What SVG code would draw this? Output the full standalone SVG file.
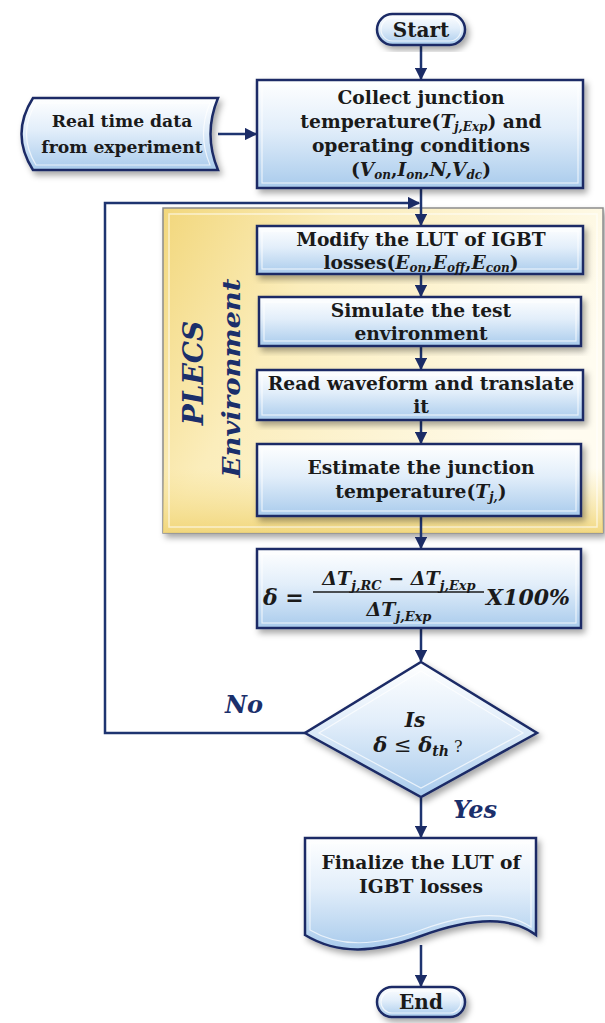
<svg xmlns="http://www.w3.org/2000/svg" width="605" height="1023" viewBox="0 0 605 1023">
<style>
.t{font-family:"DejaVu Serif","Liberation Serif",serif;font-weight:bold;font-size:18.7px;fill:#1a1a1a;text-anchor:middle}
.m{font-style:italic}
.s{font-size:12px;font-style:italic}
.box{fill:url(#gBox);stroke:#1b2c66;stroke-width:2.5;filter:url(#sh)}
.bev{fill:none;stroke:#ffffff;stroke-opacity:0.7;stroke-width:1.2}
.con{fill:none;stroke:#1e3470;stroke-width:2.5}
.lbl{font-family:"DejaVu Serif","Liberation Serif",serif;font-weight:bold;font-style:italic;fill:#1b2f6b}
</style>
<defs>
<linearGradient id="gBox" x1="0" y1="0" x2="0" y2="1">
<stop offset="0" stop-color="#ffffff"/>
<stop offset="0.45" stop-color="#e2eefa"/>
<stop offset="1" stop-color="#a9cbec"/>
</linearGradient>
<linearGradient id="gYel" x1="0" y1="0" x2="1" y2="0.4">
<stop offset="0" stop-color="#f2d77c"/>
<stop offset="0.35" stop-color="#fbedbb"/>
<stop offset="1" stop-color="#fffcf0"/>
</linearGradient>
<linearGradient id="gYelB" x1="0" y1="0" x2="0" y2="1">
<stop offset="0" stop-color="#ffffff" stop-opacity="0"/>
<stop offset="0.8" stop-color="#f6e08e" stop-opacity="0"/>
<stop offset="1" stop-color="#f0d475" stop-opacity="0.9"/>
</linearGradient>
<filter id="sh" x="-10%" y="-10%" width="125%" height="130%">
<feDropShadow dx="3" dy="4" stdDeviation="3" flood-color="#000" flood-opacity="0.35"/>
</filter>
<marker id="ah" viewBox="0 0 10 10" refX="9" refY="5" markerWidth="5" markerHeight="5" orient="auto" markerUnits="strokeWidth">
<path d="M0,0 L10,5 L0,10 Z" fill="#1b2c66"/>
</marker>
</defs>

<g id="plecs">
<rect x="163" y="208" width="440" height="325" fill="url(#gYel)" stroke="#8c8c8c" stroke-width="1.5" filter="url(#sh)"/>
<rect x="163" y="208" width="440" height="325" fill="url(#gYelB)"/>
<rect x="169" y="214" width="428" height="313" fill="none" stroke="#ffffff" stroke-opacity="0.6" stroke-width="1.5"/>
<text class="lbl" font-size="28" transform="translate(203,373) rotate(-90)" text-anchor="middle">PLECS</text>
<text class="lbl" font-size="25" transform="translate(240,378) rotate(-90)" text-anchor="middle" font-weight="normal" textLength="199" lengthAdjust="spacingAndGlyphs">Environment</text>
</g>

<g id="connectors">
<line class="con" x1="421" y1="46" x2="421" y2="79" marker-end="url(#ah)"/>
<line class="con" x1="218" y1="134" x2="256" y2="134" marker-end="url(#ah)"/>
<line class="con" x1="421" y1="189" x2="421" y2="225" marker-end="url(#ah)"/>
<polyline class="con" points="305,733 105,733 105,203 419,203" marker-end="url(#ah)"/>
<line class="con" x1="421" y1="274" x2="421" y2="296" marker-end="url(#ah)"/>
<line class="con" x1="421" y1="346" x2="421" y2="369" marker-end="url(#ah)"/>
<line class="con" x1="421" y1="420" x2="421" y2="443" marker-end="url(#ah)"/>
<line class="con" x1="421" y1="517" x2="421" y2="548" marker-end="url(#ah)"/>
<line class="con" x1="421" y1="629" x2="421" y2="661" marker-end="url(#ah)"/>
<line class="con" x1="421" y1="798" x2="421" y2="837" marker-end="url(#ah)"/>
<line class="con" x1="421" y1="945" x2="421" y2="986" marker-end="url(#ah)"/>
<text class="lbl" font-size="24" x="244" y="713" text-anchor="middle">No</text>
<text class="lbl" font-size="24" x="475" y="818" text-anchor="middle">Yes</text>
</g>

<g id="start">
<rect class="box" x="377" y="14" width="88" height="31" rx="15.5"/>
<rect class="bev" x="381" y="18" width="80" height="23" rx="11.5"/>
<text class="t" x="421" y="37" style="font-size:20px">Start</text>
</g>

<g id="data">
<path class="box" d="M33,98 L218,98 Q203,134 218,170 L33,170 Q10,134 33,98 Z"/>
<path class="bev" d="M36,103 L210,103 Q197,134 210,165 L36,165 Q17,134 36,103 Z"/>
<text class="t" x="122" y="127" style="font-size:17.2px">Real time data</text>
<text class="t" x="122" y="153" style="font-size:17.2px">from experiment</text>
</g>

<g id="collect">
<rect class="box" x="257" y="80" width="326" height="108"/>
<rect class="bev" x="262" y="85" width="316" height="98"/>
<text class="t" x="421" y="104">Collect junction</text>
<text class="t" x="421" y="128">temperature(<tspan class="m">T</tspan><tspan class="s" dy="3">j,Exp</tspan><tspan dy="-3">) and</tspan></text>
<text class="t" x="421" y="152">operating conditions</text>
<text class="t" x="421" y="176">(<tspan class="m">V</tspan><tspan class="s" dy="3">on</tspan><tspan dy="-3">,</tspan><tspan class="m">I</tspan><tspan class="s" dy="3">on</tspan><tspan dy="-3" class="m">,N,V</tspan><tspan class="s" dy="3">dc</tspan><tspan dy="-3">)</tspan></text>
</g>

<g id="modify">
<rect class="box" x="257" y="226" width="326" height="48"/>
<rect class="bev" x="262" y="231" width="316" height="38"/>
<text class="t" x="421" y="246">Modify the LUT of IGBT</text>
<text class="t" x="421" y="269">losses(<tspan class="m">E</tspan><tspan class="s" dy="3">on</tspan><tspan dy="-3">,</tspan><tspan class="m">E</tspan><tspan class="s" dy="3">off</tspan><tspan dy="-3">,</tspan><tspan class="m">E</tspan><tspan class="s" dy="3">con</tspan><tspan dy="-3">)</tspan></text>
</g>

<g id="simulate">
<rect class="box" x="259" y="297" width="322" height="49"/>
<rect class="bev" x="264" y="302" width="312" height="39"/>
<text class="t" x="421" y="317">Simulate the test</text>
<text class="t" x="421" y="340">environment</text>
</g>

<g id="read">
<rect class="box" x="257" y="370" width="326" height="50"/>
<rect class="bev" x="262" y="375" width="316" height="40"/>
<text class="t" x="421" y="390">Read waveform and translate</text>
<text class="t" x="421" y="413">it</text>
</g>

<g id="estimate">
<rect class="box" x="257" y="444" width="324" height="72"/>
<rect class="bev" x="262" y="449" width="314" height="62"/>
<text class="t" x="421" y="474">Estimate the junction</text>
<text class="t" x="421" y="498">temperature(<tspan class="m">T</tspan><tspan class="s" dy="3">j,</tspan><tspan dy="-3">)</tspan></text>
</g>

<g id="delta">
<rect class="box" x="257" y="549" width="324" height="79"/>
<rect class="bev" x="262" y="554" width="314" height="69"/>
<g font-family="DejaVu Serif, Liberation Serif, serif" font-weight="bold" font-style="italic" fill="#1a1a1a">
<text x="263" y="605" font-size="22">δ =</text>
<text x="399" y="585" font-size="19" text-anchor="middle">ΔT<tspan font-size="13" dy="5">j,RC</tspan><tspan dy="-5" font-style="normal"> − </tspan>ΔT<tspan font-size="13" dy="5">j,Exp</tspan></text>
<line x1="313" y1="592" x2="484" y2="592" stroke="#1a1a1a" stroke-width="1.6"/>
<text x="399" y="616" font-size="19" text-anchor="middle">ΔT<tspan font-size="13" dy="5">j,Exp</tspan></text>
<text x="486" y="605" font-size="22">X100%</text>
</g>
</g>

<g id="decision">
<path class="box" d="M421,662 L537,733 L421,797 L305,733 Z"/>
<path class="bev" d="M421,671 L523,733 L421,788 L319,733 Z"/>
<g font-family="DejaVu Serif, Liberation Serif, serif" font-weight="bold" fill="#1a1a1a" text-anchor="middle">
<text x="415" y="727" font-size="20" font-style="italic">Is</text>
<text x="418" y="752" font-size="21"><tspan font-style="italic">δ</tspan><tspan font-weight="normal"> ≤ </tspan><tspan font-style="italic">δ</tspan><tspan font-style="italic" font-size="14" dy="4">th</tspan><tspan font-weight="normal" font-size="16" dy="-4"> ?</tspan></text>
</g>
</g>

<g id="finalize">
<path class="box" d="M305,838 L536,838 L536,935 C510,915 470,918 421,936 C375,953 338,955 305,935 Z"/>
<path class="bev" d="M310,843 L531,843 L531,927 C506,910 468,913 421,930 C376,946 340,948 310,930 Z"/>
<text class="t" x="421" y="869">Finalize the LUT of</text>
<text class="t" x="421" y="893">IGBT losses</text>
</g>

<g id="end">
<rect class="box" x="377" y="987" width="88" height="30" rx="15"/>
<rect class="bev" x="381" y="991" width="80" height="22" rx="11"/>
<text class="t" x="421" y="1009" style="font-size:20px">End</text>
</g>
</svg>
